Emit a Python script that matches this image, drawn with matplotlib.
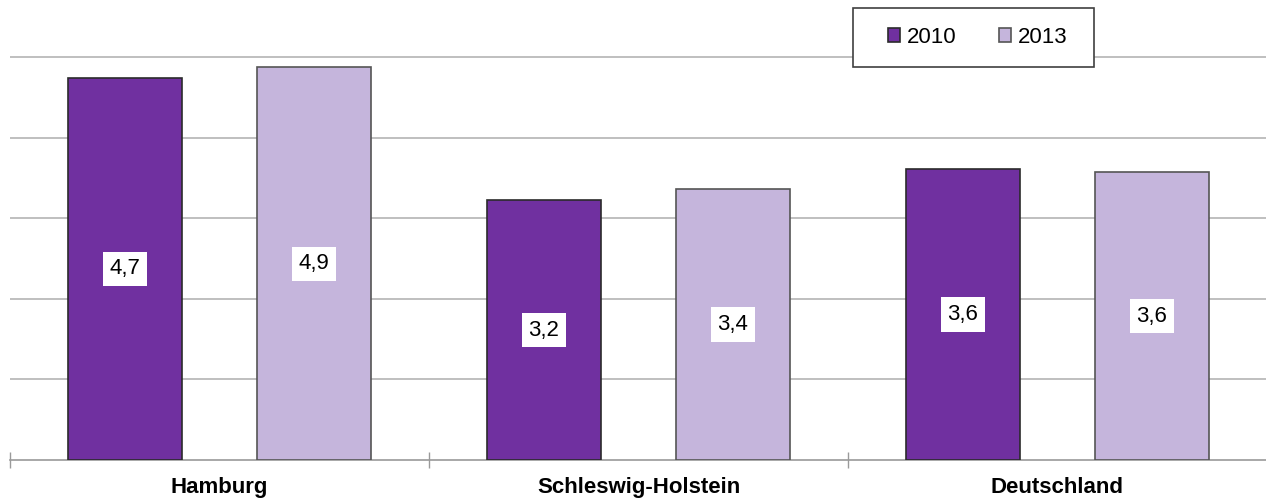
import numpy as np
import matplotlib
matplotlib.use("Agg")
from matplotlib import pyplot as plt
from matplotlib.ticker import FixedLocator
from matplotlib.patches import Rectangle

categories = ["Hamburg", "Schleswig-Holstein", "Deutschland"]
series_names = ["2010", "2013"]
values_2010 = [4.74, 3.22, 3.61]
values_2013 = [4.87, 3.36, 3.57]

colors = ["#7030a0", "#c5b5dc"]
edges = ["#2b2b2b", "#555555"]

plt.rcParams["font.family"] = ["Liberation Sans", "DejaVu Sans"]

fig = plt.figure(figsize=(12.66, 5), dpi=100)
ax = fig.add_axes([10 / 1266, 40 / 500, 1257 / 1266, 460 / 500])

x = np.arange(len(categories))
width = 0.27
offset = 0.2255

for i, (vals, name) in enumerate(zip([values_2010, values_2013], series_names)):
    pos = x + (-offset if i == 0 else offset)
    bars = ax.bar(pos, vals, width, color=colors[i], edgecolor=edges[i],
                  linewidth=1.2, label=name, zorder=3)
    for b, v in zip(bars, vals):
        ax.text(b.get_x() + b.get_width() / 2, v / 2,
                "{:.1f}".format(v).replace(".", ","),
                ha="center", va="center", fontsize=16, zorder=4,
                bbox=dict(boxstyle="square,pad=0.3", fc="white", ec="none"))

ax.set_xlim(-0.5, 2.5)
ax.set_ylim(0, 460 / 80.6)
ax.set_yticks([1, 2, 3, 4, 5])
ax.yaxis.grid(True, color="#b4b4b4", linewidth=1.2, zorder=0)
ax.tick_params(axis="y", length=0, labelleft=False)

# category labels centered, boundary ticks between groups
ax.set_xticks(x)
ax.set_xticklabels(categories, fontsize=16, fontweight="bold")
ax.tick_params(axis="x", which="major", length=0, pad=12)
ax.xaxis.set_minor_locator(FixedLocator([-0.5, 0.5, 1.5, 2.5]))
ax.tick_params(axis="x", which="minor", length=11, direction="inout",
               color="#9a9a9a", width=1)

for s in ["top", "right", "left"]:
    ax.spines[s].set_visible(False)
ax.spines["bottom"].set_color("#9a9a9a")
ax.spines["bottom"].set_linewidth(1.2)

# legend frame drawn separately so its padding can match the original
frame = Rectangle((853 / 1266, 1 - 67 / 500), 241 / 1266, 59 / 500,
                  transform=fig.transFigure, fc="white", ec="#404040",
                  lw=1.2, zorder=5, clip_on=False)
ax.add_artist(frame)
leg = ax.legend(loc="center", bbox_to_anchor=(977.5 / 1266, 1 - 37.5 / 500),
                bbox_transform=fig.transFigure, ncol=2, frameon=False,
                fontsize=16, handlelength=0.55, handleheight=0.55,
                handletextpad=0.3, columnspacing=1.9, borderpad=0,
                borderaxespad=0)
leg.set_zorder(6)

fig.savefig("out.png", dpi=100)
